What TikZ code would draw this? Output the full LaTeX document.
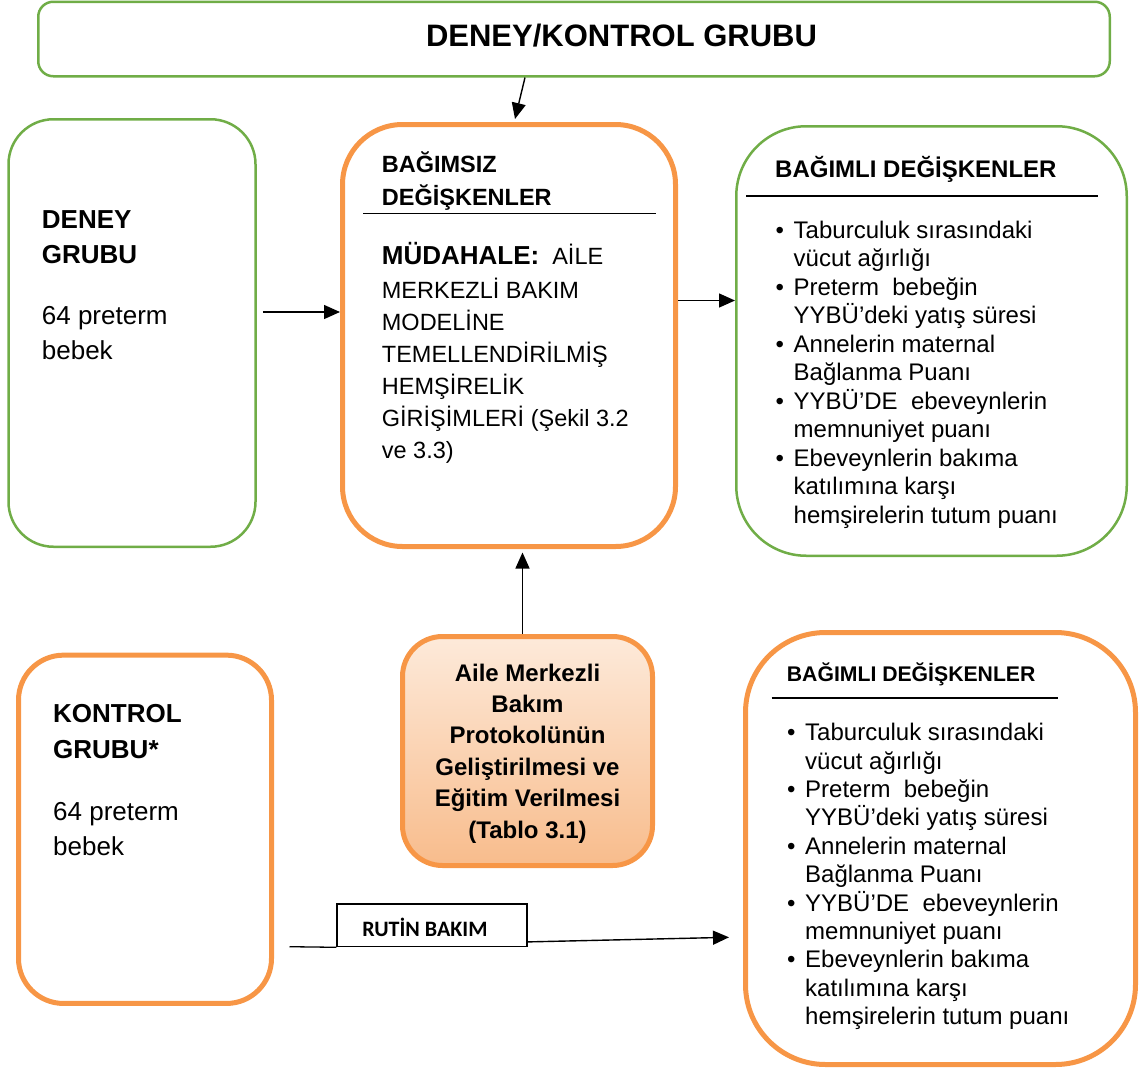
\documentclass[tikz,border=0pt]{standalone}
\usepackage{fontspec}
\setmainfont{Liberation Sans}
\newfontfamily\calibrifont{Carlito}
\usetikzlibrary{arrows.meta,positioning}
\definecolor{grn}{RGB}{112,173,71}
\definecolor{org}{RGB}{247,150,70}
\definecolor{peachtop}{RGB}{253,234,218}
\definecolor{peachbot}{RGB}{248,188,140}
\newcommand{\blt}{\makebox[18pt][l]{\textbullet}}
\newcommand{\ind}{\makebox[18pt]{}}
\newcommand{\sonuclar}{\blt Taburculuk sırasındaki\\ \ind vücut ağırlığı\\
  \blt Preterm\ \ bebeğin\\ \ind YYBÜ’deki yatış süresi\\
  \blt Annelerin maternal\\ \ind Bağlanma Puanı\\
  \blt YYBÜ’DE\ \ ebeveynlerin\\ \ind memnuniyet puanı\\
  \blt Ebeveynlerin bakıma\\ \ind katılımına karşı\\ \ind hemşirelerin tutum puanı}
\begin{document}
\begin{tikzpicture}[x=1pt,y=-1pt,
  gbox/.style={draw=grn,line width=2.5pt,rounded corners=#1,inner sep=0pt},
  gbox/.default=45pt,
  obox/.style={draw=org,line width=5pt,rounded corners=#1,inner sep=0pt},
  obox/.default=45pt,
  arr/.style={-{Triangle[length=16pt,width=14pt]},line width=1.4pt},
  txt/.style={anchor=base west,inner sep=0pt,align=left}]

  \useasboundingbox (0,0) rectangle (1144,1071);

  % kutular
  \node[gbox=15pt,minimum width=1071.5pt,minimum height=74.5pt] (top) at (574,39) {};
  \node[gbox,minimum width=247pt,minimum height=427.5pt] (deney) at (132,333) {};
  \node[obox=60pt,minimum width=333pt,minimum height=422pt] (mid) at (509,335.5) {};
  \node[gbox=70pt,minimum width=390.5pt,minimum height=429.5pt] (bag1) at (931.5,341) {};
  \node[obox=40pt,minimum width=250pt,minimum height=229pt,top color=peachtop,bottom color=peachbot] (egitim) at (527.5,751) {};
  \node[obox,minimum width=253pt,minimum height=348.3pt] (kontrol) at (145,829.3) {};
  \node[obox=80pt,minimum width=390pt,minimum height=432pt] (bag2) at (940.5,848.5) {};
  \node[draw,line width=1.3pt,minimum width=190pt,minimum height=42.7pt,inner sep=0pt] (rutin) at (432,925.3) {};

  % yazilar (cok satirli dugumler son satirin tabanina gore)
  \node[txt,anchor=base,font=\fontsize{31}{31}\selectfont\bfseries] (toptxt) at (621.5,46.5) {DENEY/KONTROL GRUBU};

  \node[txt,font=\fontsize{26}{35}\selectfont\bfseries] (deneyhd) at (41.7,263) {DENEY\\GRUBU};
  \node[txt,font=\fontsize{26}{35}\selectfont] (deneyn) at (41.7,359) {64 preterm\\bebek};

  \node[txt,font=\fontsize{23.5}{33}\selectfont\bfseries] (bgmsz) at (381.7,205) {BAĞIMSIZ\\DEĞİŞKENLER};
  \draw[line width=1.2pt] (363,213.3) -- (656,213.3);
  \node[txt,font=\fontsize{23.5}{32}\selectfont] (mudahale) at (381.7,458)
    {{\bfseries\fontsize{26}{32}\selectfont MÜDAHALE:}\hspace{13pt}AİLE\\[2pt]
     MERKEZLİ BAKIM\\ MODELİNE\\ TEMELLENDİRİLMİŞ\\ HEMŞİRELİK\\
     GİRİŞİMLERİ (Şekil 3.2\\ ve 3.3)};

  \node[txt,font=\fontsize{24}{24}\selectfont\bfseries] (bag1hd) at (775,177) {BAĞIMLI DEĞİŞKENLER};
  \draw[line width=1.2pt] (746,196) -- (1098,196);
  \node[txt,font=\fontsize{24}{28.5}\selectfont] (bag1list) at (775.5,523) {\sonuclar};

  \node[txt,anchor=base,align=center,font=\fontsize{24}{31.4}\selectfont\bfseries] (egitimtxt) at (527.5,838)
    {Aile Merkezli\\Bakım\\Protokolünün\\Geliştirilmesi ve\\Eğitim Verilmesi\\(Tablo 3.1)};

  \node[txt,font=\fontsize{26}{36}\selectfont\bfseries] (kontrolhd) at (53,758) {KONTROL\\GRUBU*};
  \node[txt,font=\fontsize{26}{35}\selectfont] (kontroln) at (53,855) {64 preterm\\bebek};

  \node[txt,font=\fontsize{21.2}{21.2}\selectfont\bfseries] (bag2hd) at (786.7,681.7) {BAĞIMLI DEĞİŞKENLER};
  \draw[line width=1.2pt] (771.7,698) -- (1058,698);
  \node[txt,font=\fontsize{24}{28.4}\selectfont] (bag2list) at (787,1024.7) {\sonuclar};

  \node[anchor=base,inner sep=0pt,font=\calibrifont\bfseries\fontsize{22}{22}\selectfont] (rutintxt) at (425,936.7) {RUTİN BAKIM};

  % oklar
  \draw[arr] ([xshift=-49pt]top.south) -- ([xshift=6pt,yshift=3pt]mid.north);
  \draw[arr] ([xshift=6pt,yshift=21pt]deney.east) coordinate (d1) -- (d1 -| mid.west);
  \draw[arr] ([yshift=35pt]mid.east) coordinate (m1) -- (m1 -| bag1.west);
  \draw[arr] ([xshift=-5pt]egitim.north) coordinate (e1) -- ([yshift=-3.5pt]e1 |- mid.south);
  \draw[line width=1.3pt] (kontrol.east) ++(15.5,117.4) -- (rutin.south west);
  \draw[arr] ([yshift=5.4pt]rutin.south east) -- ([xshift=-14pt,yshift=-88.8pt]bag2.west);

\end{tikzpicture}
\end{document}
